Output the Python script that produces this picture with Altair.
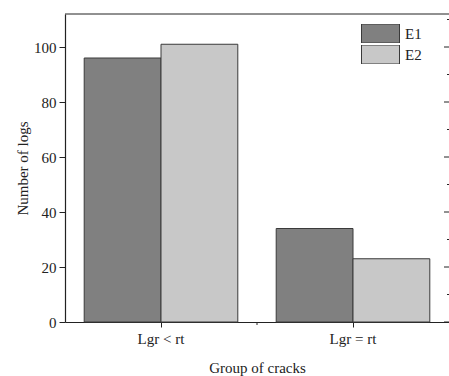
import altair as alt
import pandas as pd

# Number of logs per crack group, for the two evaluations
groups = ["Lgr < rt", "Lgr = rt"]
series = ["E1", "E2"]
e1_counts = [96, 34]
e2_counts = [101, 23]

# Tick positions of the y axis (majors are labelled)
y_major = [0, 20, 40, 60, 80, 100]
y_minor = [10, 30, 50, 70, 90, 110]

rows = []
for i, g in enumerate(groups):
    rows.append({"group": g, "series": "E1", "count": e1_counts[i]})
    rows.append({"group": g, "series": "E2", "count": e2_counts[i]})
df = pd.DataFrame(rows)

FONT = "Liberation Serif"
INK = "#222222"
W, H = 384, 308

y_scale = alt.Scale(domain=[0, 112], nice=False, zero=True)

bars = alt.Chart(df).mark_bar(stroke="#3a3a3a", strokeWidth=1).encode(
    x=alt.X(
        "group:N",
        sort=groups,
        scale=alt.Scale(paddingInner=0.2, paddingOuter=0.1),
        axis=alt.Axis(
            title="Group of cracks",
            labelAngle=0,
            tickSize=5,
            labelPadding=4,
            titlePadding=14,
        ),
    ),
    xOffset=alt.XOffset("series:N", sort=series, scale=alt.Scale(paddingInner=0, paddingOuter=0)),
    y=alt.Y(
        "count:Q",
        scale=y_scale,
        axis=alt.Axis(
            title="Number of logs",
            values=sorted(y_major + y_minor[:-1]),
            labelExpr="datum.value % 20 === 0 ? datum.label : ''",
            tickSize={"condition": {"test": "datum.value % 20 === 0", "value": 6}, "value": 3},
            labelPadding=3,
            titlePadding=3,
            grid=False,
        ),
    ),
    color=alt.Color(
        "series:N",
        sort=series,
        scale=alt.Scale(domain=series, range=["#808080", "#c8c8c8"]),
        legend=alt.Legend(
            title=None,
            orient="none",
            legendX=296,
            legendY=10,
            symbolType="M-1,-0.5H1V0.5H-1Z",
            symbolSize=1444,
            clipHeight=19,
            rowPadding=2,
            symbolStrokeColor="#3a3a3a",
            symbolStrokeWidth=1,
            symbolOpacity=1,
            labelOffset=5,
            labelFont=FONT,
            labelFontSize=15,
            labelColor=INK,
            padding=0,
        ),
    ),
)

# Upper frame line of the plot box
top_line = alt.Chart(pd.DataFrame({"v": [112]})).mark_rule(color=INK, strokeWidth=1).encode(
    y=alt.Y("v:Q", scale=y_scale)
)

# Inward ticks along the right edge of the box
right_major = alt.Chart(pd.DataFrame({"v": y_major})).mark_rule(color=INK, strokeWidth=1).encode(
    y=alt.Y("v:Q", scale=y_scale), x=alt.value(W - 5), x2=alt.value(W)
)
right_minor = alt.Chart(pd.DataFrame({"v": y_minor})).mark_rule(color=INK, strokeWidth=1).encode(
    y=alt.Y("v:Q", scale=y_scale), x=alt.value(W - 2), x2=alt.value(W)
)

# Minor tick on the x axis between the two groups
x_minor = alt.Chart(pd.DataFrame({"v": [0]})).mark_rule(color=INK, strokeWidth=1).encode(
    x=alt.value(W / 2), y=alt.value(H), y2=alt.value(H + 3)
)

chart = (
    alt.layer(bars, top_line, right_major, right_minor, x_minor)
    .properties(
        width=W,
        height=H,
        autosize=alt.AutoSizeParams(type="none"),
        padding={"left": 65, "top": 14, "right": 0, "bottom": 54},
        background="white",
    )
    .configure_view(strokeWidth=0)
    .configure_axis(
        labelFont=FONT,
        titleFont=FONT,
        labelFontSize=15,
        titleFontSize=15,
        titleFontWeight="normal",
        labelColor=INK,
        titleColor=INK,
        domainColor=INK,
        tickColor=INK,
        domainWidth=1.2,
        tickWidth=1,
    )
)

chart.save("out.html", embed_options={"renderer": "svg", "actions": False})
